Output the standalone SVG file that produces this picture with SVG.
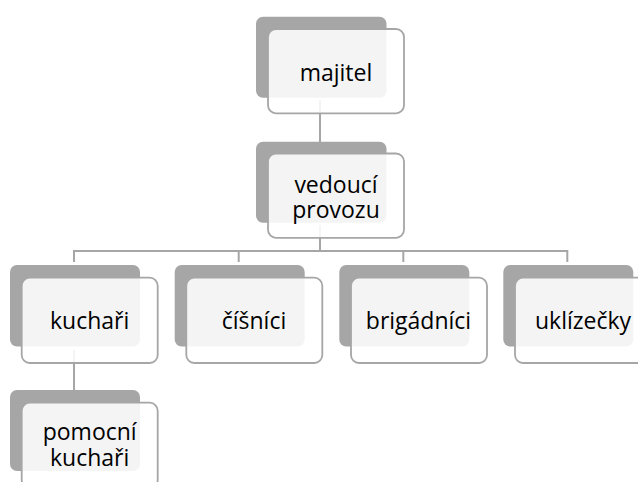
<svg xmlns="http://www.w3.org/2000/svg" width="638" height="482" viewBox="0 0 638 482">
<style>
.bg{fill:#a6a6a6}
.fg{fill:#ffffff;fill-opacity:0.88;stroke:#a6a6a6;stroke-width:1.8}
.t{font-family:"Open Sans","Noto Sans",sans-serif;font-size:23px;fill:#000;text-anchor:middle}
.c{fill:none;stroke:#a6a6a6;stroke-width:2}
</style>
<rect width="638" height="482" fill="#ffffff"/>
<g id="connectors">
<path class="c" d="M320 100V142"/>
<path class="c" d="M320 225V251"/>
<path class="c" d="M74 262V251H567.3V262"/>
<path class="c" d="M238.7 251V262"/>
<path class="c" d="M403.3 251V262"/>
<path class="c" d="M74 350V390"/>
</g>
<g id="majitel">
<rect class="bg" x="256" y="16.7" width="130.5" height="81" rx="7"/>
<rect class="fg" x="268" y="29" width="136" height="84.3" rx="8"/>
<text class="t" x="336" y="80.7">majitel</text>
</g>
<g id="vedouci">
<rect class="bg" x="256" y="141.7" width="130.5" height="81" rx="7"/>
<rect class="fg" x="268" y="153.5" width="136" height="84.3" rx="8"/>
<text class="t" x="336" y="193.3">vedoucí<tspan x="336" dy="25">provozu</tspan></text>
</g>
<g id="kuchari">
<rect class="bg" x="10" y="265" width="130" height="81.5" rx="7"/>
<rect class="fg" x="21.7" y="277.7" width="136" height="85.3" rx="8"/>
<text class="t" x="89.7" y="329">kuchaři</text>
</g>
<g id="cisnici">
<rect class="bg" x="174.7" y="265" width="130" height="81.5" rx="7"/>
<rect class="fg" x="186.3" y="277.7" width="136" height="85.3" rx="8"/>
<text class="t" x="254" y="329">číšníci</text>
</g>
<g id="brigadnici">
<rect class="bg" x="339.3" y="265" width="130" height="81.5" rx="7"/>
<rect class="fg" x="351" y="277.7" width="136" height="85.3" rx="8"/>
<text class="t" x="418.5" y="329">brigádníci</text>
</g>
<g id="uklizecky">
<rect class="bg" x="503.3" y="265" width="130" height="81.5" rx="7"/>
<rect class="fg" x="515" y="277.7" width="136" height="85.3" rx="8"/>
<text class="t" x="583" y="329">uklízečky</text>
</g>
<g id="pomocni-kuchari">
<rect class="bg" x="10" y="390" width="130" height="81" rx="7"/>
<rect class="fg" x="21.7" y="402.7" width="136" height="85.3" rx="8"/>
<text class="t" x="89.7" y="440">pomocní<tspan x="89.7" dy="26">kuchaři</tspan></text>
</g>
</svg>
